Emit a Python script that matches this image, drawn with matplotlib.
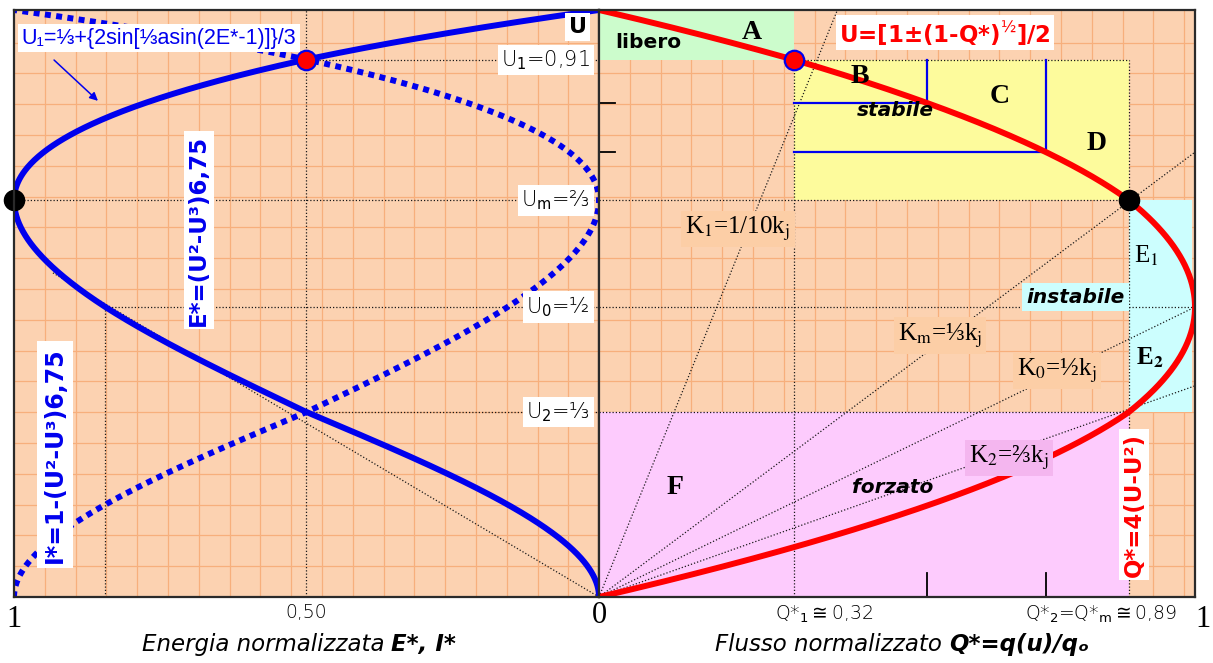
import numpy as np
import matplotlib
matplotlib.use("Agg")
import matplotlib.pyplot as plt
from matplotlib.patches import Rectangle
from matplotlib.collections import LineCollection
from matplotlib.transforms import blended_transform_factory

# ---------------- data ----------------
E_FACTOR = 6.75            # E* = (U^2 - U^3) * 6.75
U1 = 0.91                  # U1 = 0,91
U_M = 2 / 3                # Um = 2/3
U_0 = 1 / 2                # U0 = 1/2
U_2 = 1 / 3                # U2 = 1/3
E_HALF = 0.50              # E* = 0,50
Q_M = 8 / 9                # Q*2 = Q*m = 0,89
Q_STEPS = [0.55, 0.75]     # stable branch split points (B / C / D)
K_RAYS = [1 / 10, 1 / 3, 1 / 2, 2 / 3]
K_LABELS = [r"K$_1$=1/10k$_\mathrm{j}$", r"K$_\mathrm{m}$=⅓k$_\mathrm{j}$",
            r"K$_0$=½k$_\mathrm{j}$", r"K$_2$=⅔k$_\mathrm{j}$"]
U_LEVELS = [U1, U_M, U_0, U_2]
U_LEVEL_LABELS = [r"U$_1$=0,91", r"U$_\mathrm{m}$=⅔", r"U$_0$=½", r"U$_2$=⅓"]

# stretched U axis: value -> fraction of the axis height
U_KNOTS = [0, 1 / 3, 1 / 2, 2 / 3, 0.91, 1]
H_KNOTS = [0, 0.315, 0.494, 0.676, 0.915, 1]

# ---------------- colours ----------------
PEACH = "#FCD2B1"
GRIDC = "#F7AF7C"
GREEN = "#CCFCCC"
YELLOW = "#FDFB9C"
CYAN = "#CCFEFE"
PINK = "#FDCBFD"
BLUE = "#0000EE"
RED = "#FF0000"

W, H = 1213, 663
fig = plt.figure(figsize=(W / 100, H / 100), dpi=100)
fig.patch.set_facecolor("white")


def frame(x0, y0, x1, y1):
    return [x0 / W, 1 - y1 / H, (x1 - x0) / W, (y1 - y0) / H]


axL = fig.add_axes(frame(14, 10, 599, 597))
axR = fig.add_axes(frame(599, 10, 1195, 597))


def u_fwd(u):
    return np.interp(u, U_KNOTS, H_KNOTS)


def u_inv(h):
    return np.interp(h, H_KNOTS, U_KNOTS)


for ax in (axL, axR):
    ax.set_yscale("function", functions=(u_fwd, u_inv))
    ax.set_ylim(0, 1)
    ax.set_xticks([])
    ax.set_yticks([])
    ax.yaxis.set_minor_locator(matplotlib.ticker.NullLocator())
    ax.xaxis.set_minor_locator(matplotlib.ticker.NullLocator())
    ax.tick_params(which="both", length=0)
    ax.set_facecolor(PEACH)
    for s in ax.spines.values():
        s.set_color("#2a2a2a")
        s.set_linewidth(1.6)
        s.set_zorder(20)
axL.set_xlim(1, 0)
axR.set_xlim(0, 1)


def graph_paper(ax):
    bb = ax.get_position()
    w_in, h_in = bb.width * W / 100, bb.height * H / 100
    cell = 0.308
    xs = np.arange(cell, w_in - 0.02, cell) / w_in
    ys = np.arange(cell, h_in - 0.02, cell) / h_in
    segs = [[(x, 0), (x, 1)] for x in xs] + [[(0, y), (1, y)] for y in ys]
    ax.add_collection(LineCollection(segs, colors=GRIDC, linewidths=0.9,
                                     transform=ax.transAxes, zorder=0.5))


graph_paper(axL)
graph_paper(axR)

DOT = dict(color="#1a1a1a", lw=0.9, ls=(0, (1, 1.6)), zorder=3)

# ---------------- left panel: E*, I* ----------------
u = np.linspace(0, 1, 801)
E = E_FACTOR * (u ** 2 - u ** 3)
I = 1 - E
U_TAN = 0.5
E_TAN = E_FACTOR * (U_TAN ** 2 - U_TAN ** 3)
slope = E_TAN / U_TAN

axL.plot([1, 0], [U_M, U_M], **DOT)
axL.plot([E_TAN, 0], [U_0, U_0], **DOT)
axL.plot([E_HALF, 0], [U_2, U_2], **DOT)
axL.plot([E_HALF, 0], [U1, U1], **DOT)
axL.plot([E_HALF, E_HALF], [0, 1], **DOT)
axL.plot([E_TAN, E_TAN], [0, U_0], **DOT)
axL.plot([0, 0.935], [0, 0.935 / slope], **DOT)

axL.plot(I, u, color=BLUE, lw=4.3, ls=(0, (1.0, 0.9)), solid_capstyle="butt",
         dash_capstyle="butt", zorder=5)
axL.plot(E, u, color=BLUE, lw=4.3, zorder=6, solid_capstyle="butt")

axL.plot([1], [U_M], "o", ms=14.5, color="black", zorder=10, clip_on=False)
axL.plot([E_HALF], [U1], "o", ms=14, mfc=RED, mec=BLUE, mew=1.6, zorder=10)

# ---------------- right panel: Q* ----------------
Q1 = 4 * U1 * (1 - U1)
Q = 4 * (u - u ** 2)

axR.add_patch(Rectangle((0, U1), Q1, 1 - U1, fc=GREEN, ec="none", zorder=1))
axR.add_patch(Rectangle((Q1, U_M), Q_M - Q1, U1 - U_M, fc=YELLOW, ec="none", zorder=1))
axR.add_patch(Rectangle((Q_M, U_2), 0.995 - Q_M, U_M - U_2, fc=CYAN, ec="none", zorder=1))
axR.add_patch(Rectangle((0, 0), Q_M, U_2, fc=PINK, ec="none", zorder=1))

axR.plot([0, Q_M], [U_M, U_M], **DOT)
axR.plot([0, 1], [U_0, U_0], **DOT)
axR.plot([0, Q_M], [U_2, U_2], **DOT)
axR.plot([Q1, Q_M], [U1, U1], **DOT)
axR.plot([Q1, Q1], [0, U1], **DOT)
axR.plot([Q_M, Q_M], [0, U1], **DOT)
for K in K_RAYS:
    q_end = min(1.0, 4 * K)
    axR.plot([0, q_end], [0, q_end / (4 * K)], **DOT)

for qs in Q_STEPS:
    us = (1 + np.sqrt(1 - qs)) / 2
    axR.plot([Q1, qs, qs], [us, us, U1], color=BLUE, lw=1.6, zorder=4)
    axR.plot([0, 0.027], [us, us], color="black", lw=1.3, zorder=4)
    axR.plot([qs, qs], [0, 0.043], color="black", lw=1.3, zorder=4)

axR.plot(Q, u, color=RED, lw=4.3, zorder=6)
axR.plot([Q1], [U1], "o", ms=14, mfc=RED, mec=BLUE, mew=1.6, zorder=10)
axR.plot([Q_M], [U_M], "o", ms=14.5, color="black", zorder=10)

# ---------------- text ----------------
WBOX = dict(facecolor="white", edgecolor="none", pad=2.5)
SANS = ["DejaVu Sans"]
SERIF = ["Liberation Serif", "DejaVu Serif"]

axL.text(0.248, 0.952, "U₁=⅓+{2sin[⅓asin(2E*-1)]}/3", transform=axL.transAxes,
         ha="center", va="center", color=BLUE, fontsize=15.5,
         family=["Liberation Sans", "DejaVu Sans"], bbox=WBOX, zorder=12)
axL.annotate("", xy=(0.147, 0.842), xytext=(0.065, 0.918),
             xycoords="axes fraction", textcoords="axes fraction",
             arrowprops=dict(arrowstyle="-|>", color=BLUE, lw=1.1,
                             mutation_scale=12), zorder=12)
axL.text(0.964, 0.971, "U", transform=axL.transAxes, ha="center", va="center",
         fontsize=16, fontweight="bold", family=SANS, bbox=WBOX, zorder=12)

yblend = blended_transform_factory(axL.transAxes, axL.transData)
for lv, lab in zip(U_LEVELS, U_LEVEL_LABELS):
    axL.text(0.985, lv, lab, transform=yblend, ha="right", va="center",
             fontsize=15, family=SANS, fontweight="light",
             math_fontfamily="dejavusans",
             bbox=dict(facecolor="white", edgecolor="none", pad=2.5), zorder=12)

axL.text(0.316, 0.625, "E*=(U²-U³)6,75", transform=axL.transAxes, rotation=90,
         ha="center", va="center", color=BLUE, fontsize=16.5, fontweight="bold",
         family=SANS, bbox=WBOX, zorder=12)
axL.text(0.070, 0.242, "I*=1-(U²-U³)6,75", transform=axL.transAxes, rotation=90,
         ha="center", va="center", color=BLUE, fontsize=17, fontweight="bold",
         family=SANS, bbox=dict(facecolor="white", edgecolor="none", pad=4),
         zorder=12)

axR.text(0.5805, 0.961, r"U=[1±(1-Q*)$^{½}$]/2", transform=axR.transAxes,
         ha="center", va="center", color=RED, fontsize=16.5, fontweight="bold",
         family=SANS, math_fontfamily="dejavusans", bbox=WBOX, zorder=12)
axR.text(0.898, 0.157, "Q*=4(U-U²)", transform=axR.transAxes, rotation=90,
         ha="center", va="center", color=RED, fontsize=16.5, fontweight="bold",
         family=SANS, bbox=WBOX, zorder=12)

for s, x, y in [("A", 0.257, 0.9625), ("B", 0.438, 0.886), ("C", 0.673, 0.852),
                ("D", 0.8356, 0.773), ("F", 0.1275, 0.187)]:
    axR.text(x, y, s, transform=axR.transAxes, ha="center", va="center",
             fontsize=20, fontweight="bold", family=SERIF, zorder=12)
axR.text(0.918, 0.581, r"E$_1$", transform=axR.transAxes, ha="center", va="center",
         fontsize=18, family=SERIF, math_fontfamily="stix", zorder=12)
axR.text(0.9245, 0.407, r"E$_\mathbf{2}$", transform=axR.transAxes, ha="center",
         va="center", fontsize=18, fontweight="bold", family=SERIF,
         math_fontfamily="stix", zorder=12)

axR.text(0.082, 0.944, "libero", transform=axR.transAxes, ha="center", va="center",
         fontsize=14.5, fontweight="bold", family=SANS, zorder=12)
axR.text(0.497, 0.828, "stabile", transform=axR.transAxes, ha="center", va="center",
         fontsize=14.5, fontweight="bold", style="italic", family=SANS, zorder=12)
axR.text(0.800, 0.511, "instabile", transform=axR.transAxes, ha="center", va="center",
         fontsize=14.5, fontweight="bold", style="italic", family=SANS, zorder=12,
         bbox=dict(facecolor=CYAN, edgecolor="none", pad=3))
axR.text(0.493, 0.186, "forzato", transform=axR.transAxes, ha="center", va="center",
         fontsize=14.5, fontweight="bold", style="italic", family=SANS, zorder=12)

k_pos = [(0.233, 0.627), (0.572, 0.445), (0.768, 0.385), (0.688, 0.237)]
k_box = ["#FCCEA6", "#FCCEA6", "#FCCEA6", "#F4B6EF"]
for lab, (x, y), fc in zip(K_LABELS, k_pos, k_box):
    axR.text(x, y, lab, transform=axR.transAxes, ha="center", va="center",
             fontsize=18, family=SERIF, math_fontfamily="stix", zorder=12,
             bbox=dict(facecolor=fc, edgecolor="none", pad=3))

# axis numbers
xbL = axL.get_xaxis_transform()
axL.text(1.0, -0.039, "1", transform=xbL, ha="center", va="center", fontsize=22,
         family=SERIF)
axL.text(E_HALF, -0.027, "0,50", transform=xbL, ha="center", va="center",
         fontsize=13.5, family=SANS, fontweight="light")
axL.text(0.0, -0.032, "0", transform=xbL, ha="center", va="center", fontsize=22,
         family=SERIF)
axR.text(0.3775, -0.029, r"Q*$_1\cong$0,32", transform=axR.transAxes, ha="center",
         va="center", fontsize=13.5, family=SANS, fontweight="light",
         math_fontfamily="dejavusans")
axR.text(0.842, -0.029, r"Q*$_2$=Q*$_\mathrm{m}\cong$0,89", transform=axR.transAxes,
         ha="center", va="center", fontsize=13.5, family=SANS, fontweight="light",
         math_fontfamily="dejavusans")
axR.text(1.0135, -0.039, "1", transform=axR.transAxes, ha="center", va="center",
         fontsize=22, family=SERIF)

# axis titles
t1 = fig.text(384 / W, 1 - 656 / H, "Energia normalizzata", ha="right", va="bottom",
              fontsize=16.5, style="italic", family=SANS)
axL.annotate("E*, I*", xy=(1, 0), xycoords=t1, xytext=(5, 0),
             textcoords="offset points", ha="left", va="bottom", fontsize=16.5,
             style="italic", fontweight="bold", family=SANS, annotation_clip=False)
t2 = fig.text(942 / W, 1 - 656 / H, "Flusso normalizzato", ha="right", va="bottom",
              fontsize=16.5, style="italic", family=SANS)
axR.annotate("Q*=q(u)/qₒ", xy=(1, 0), xycoords=t2, xytext=(5, 0),
             textcoords="offset points", ha="left", va="bottom", fontsize=16.5,
             style="italic", fontweight="bold", family=SANS, annotation_clip=False)

fig.savefig("out.png", dpi=100)
